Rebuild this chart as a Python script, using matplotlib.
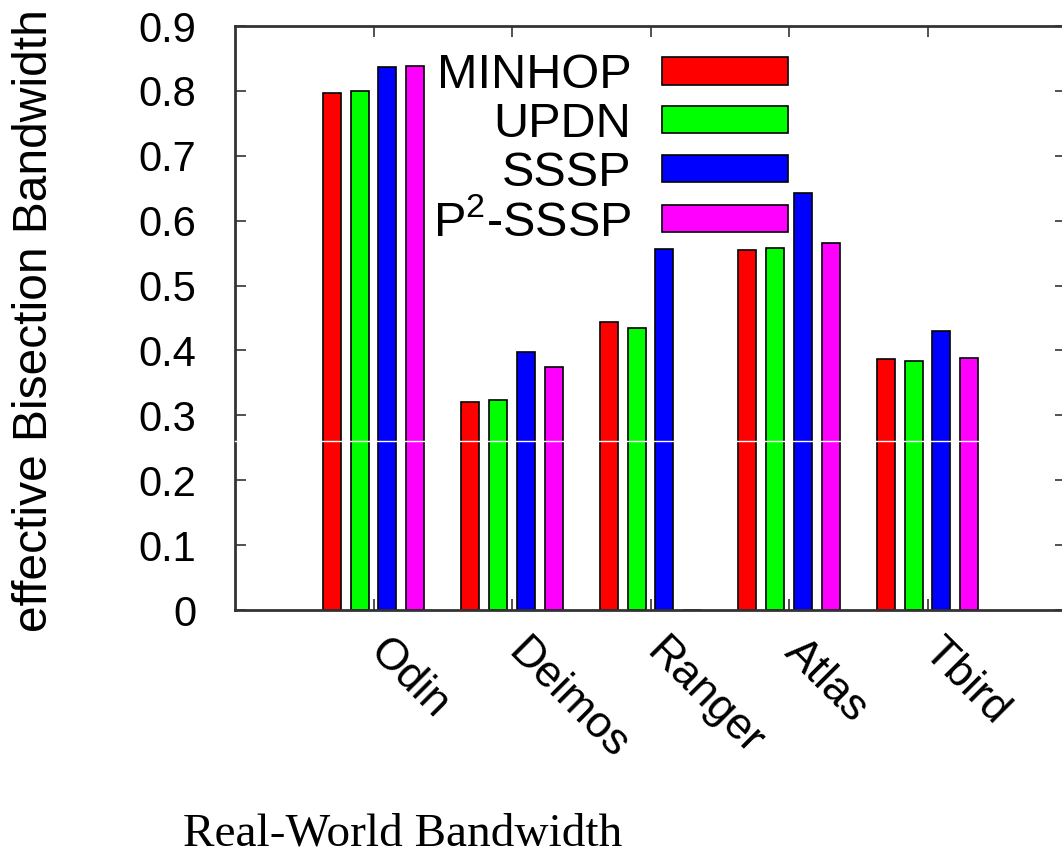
import matplotlib
matplotlib.use("Agg")
import matplotlib.pyplot as plt
import matplotlib.transforms as mtransforms
import numpy as np

# values
machines = ["Odin", "Deimos", "Ranger", "Atlas", "Tbird"]
minhop = [0.797, 0.321, 0.444, 0.555, 0.387]
updn = [0.800, 0.324, 0.434, 0.558, 0.384]
sssp = [0.837, 0.398, 0.556, 0.643, 0.430]
p2sssp = [0.838, 0.375, 0.0, 0.565, 0.388]
series_names = ["MINHOP", "UPDN", "SSSP", r"P$^\mathrm{2}$-SSSP"]
y_ticks = [0, 0.1, 0.2, 0.3, 0.4, 0.5, 0.6, 0.7, 0.8, 0.9]

colors = ["#ff0000", "#00ff00", "#0000ff", "#ff00ff"]

plt.rcParams["font.family"] = ["Liberation Sans", "DejaVu Sans"]
plt.rcParams["mathtext.fontset"] = "custom"
plt.rcParams["mathtext.rm"] = "Liberation Sans"
plt.rcParams["mathtext.it"] = "Liberation Sans:italic"

W, H = 1062, 856
fig = plt.figure(figsize=(W / 100, H / 100), dpi=100)
# axes box runs past the right edge, like the cropped original
ax = fig.add_axes([235 / W, (H - 610) / H, (1066 - 235) / W, (610 - 26) / H])

x = np.arange(len(machines))
step = 0.2
width = 0.13
for i, (vals, name, c) in enumerate(zip([minhop, updn, sssp, p2sssp], series_names, colors)):
    ax.bar(x + (i - 1.5) * step, vals, width, color=c, edgecolor="black",
           linewidth=1.2, label=name, zorder=2)

# thin white seam that crosses the original image
ax.axhline(0.26, color="white", lw=1.0, zorder=5, clip_on=False)

ax.set_xlim(-1, 5)
ax.set_ylim(0, 0.9)
ax.set_yticks(y_ticks)
ax.set_yticklabels(["0" if v == 0 else f"{v:.1f}" for v in y_ticks], fontsize=30)
ax.set_xticks(x)
ax.set_xticklabels(machines, fontsize=32, rotation=-45, ha="left", va="top",
                   rotation_mode="anchor")
ax.tick_params(axis="both", direction="in", length=8, width=1.2, color="#333333",
               top=True, right=True)
ax.tick_params(axis="y", pad=28)
ax.tick_params(axis="x", pad=16)
shift = mtransforms.ScaledTranslation(17 / 100, 1 / 100, fig.dpi_scale_trans)
for lab in ax.get_xticklabels():
    lab.set_transform(lab.get_transform() + shift)
for s in ax.spines.values():
    s.set_linewidth(2.0)
    s.set_color("#333333")

fig.text(35 / W, 1 - 321 / H, "effective Bisection Bandwidth", rotation=90,
         ha="center", va="center", fontsize=34.5)

leg = ax.legend(loc="upper right", bbox_to_anchor=((788 - 235) / 831, 1 - (53 - 26) / 584),
                frameon=False, markerfirst=False, fontsize=35, handlelength=2.6,
                handleheight=0.5, handletextpad=0.62, labelspacing=0.08,
                borderpad=0, borderaxespad=0)
for t in leg.get_texts():
    t.set_ha("right")

fig.text(403 / W, 1 - 845 / H, "Real-World Bandwidth", ha="center", va="baseline",
         fontsize=34, family=["Liberation Serif", "DejaVu Serif"])

fig.savefig("out.png", dpi=100)
